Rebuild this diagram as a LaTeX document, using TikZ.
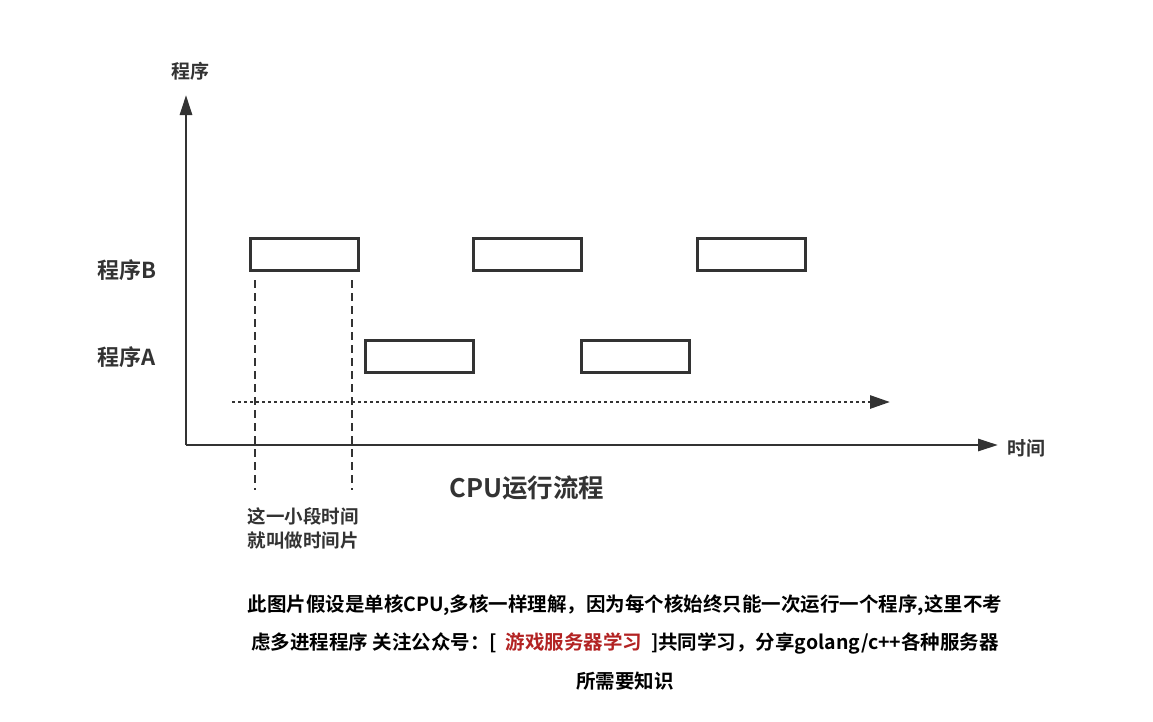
\documentclass[tikz,border=0pt]{standalone}
\usepackage{fontspec}
\setmainfont{Noto Sans CJK SC}[BoldFont={* Bold}]
\usetikzlibrary{arrows.meta}
\definecolor{ink}{HTML}{333333}
\definecolor{redt}{HTML}{B22222}
\begin{document}
\begin{tikzpicture}[x=1pt,y=-1pt,
  slot/.style={draw=ink,line width=2.6pt,minimum width=108pt,minimum height=32pt,inner sep=0,anchor=north west},
  lbl/.style={text=ink,font=\bfseries\fontsize{19}{22}\selectfont},
  body/.style={text=black,font=\bfseries\fontsize{19.5}{22}\selectfont},
  axis/.style={draw=ink,line width=2.8pt,-{Triangle[length=20pt,width=12pt]}}]
\useasboundingbox (0,0) rectangle (1153,721);
\coordinate (o) at (186,445);
\coordinate (yt) at (186,95);
\coordinate (xt) at (998,445);
\draw[axis] (o) -- (yt);
\draw[axis] (o) -- (xt);
\node[lbl] (ylab) at (190,71) {程序};
\node[lbl] (xlab) at (1026,448) {时间};
\node[slot] (b1) at (249,237) {};
\node[slot] (b2) at (472,237) {};
\node[slot] (b3) at (696,237) {};
\node[slot] (a1) at (364,339) {};
\node[slot] (a2) at (580,339) {};
\node[lbl,font=\bfseries\fontsize{22}{24}\selectfont] (lb) at (127,270) {程序B};
\node[lbl,font=\bfseries\fontsize{22}{24}\selectfont] (la) at (127,357) {程序A};
\coordinate (ds) at (232,402);
\coordinate (de) at (890,402);
\draw[draw=ink,line width=2.8pt,dash pattern=on 3pt off 3pt,-{Triangle[length=20pt,width=13pt]}] (ds) -- (de);
\coordinate (v1a) at (255,280); \coordinate (v1b) at (255,490);
\coordinate (v2a) at (352,280); \coordinate (v2b) at (352,490);
\draw[draw=ink,line width=2.4pt,dash pattern=on 8pt off 5pt] (v1a) -- (v1b);
\draw[draw=ink,line width=2.4pt,dash pattern=on 8pt off 5pt] (v2a) -- (v2b);
\node[lbl,align=center,font=\bfseries\fontsize{18.5}{24}\selectfont] (note) at (303,528) {这一小段时间\\就叫做时间片};
\node[lbl,font=\bfseries\fontsize{25.5}{28}\selectfont] (title) at (527,488) {CPU运行流程};
\node[body] (t1) at (625,605) {此图片假设是单核CPU,多核一样理解，因为每个核始终只能一次运行一个程序,这里不考};
\node[body] (t2) at (625,643) {虑多进程程序 关注公众号：[\ \ \textcolor{redt}{游戏服务器学习}\ \ ]共同学习，分享golang/c++各种服务器};
\node[body] (t3) at (625,681) {所需要知识};
\end{tikzpicture}
\end{document}
